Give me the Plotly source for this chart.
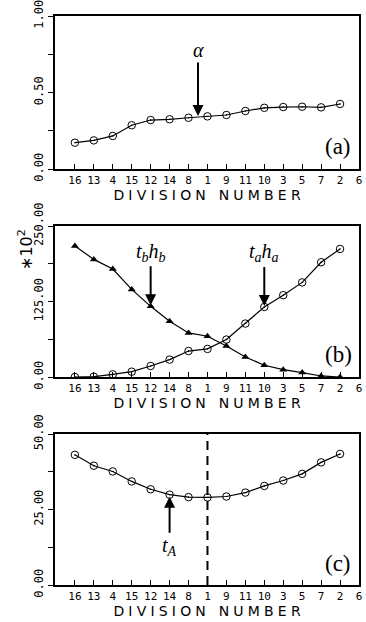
import plotly.graph_objects as go

# Division order along the horizontal axis (the last label sits on the frame edge)
divisions = ["16", "13", "4", "15", "12", "14", "8", "1", "9", "11", "10", "3", "5", "7", "2", "6"]

# (a) coefficient alpha per division
alpha = [0.172, 0.187, 0.216, 0.286, 0.320, 0.325, 0.335, 0.344, 0.353, 0.379,
         0.400, 0.405, 0.407, 0.403, 0.425]

# (b) products, in units of 10^2
ta_ha = [0.0, 0.5, 4.4, 8.8, 18.2, 28.8, 43.0, 46.5, 62.0, 88.5,
         116.0, 135.5, 156.6, 190.0, 212.0]
tb_hb = [217.0, 194.7, 178.7, 145.0, 117.0, 92.4, 73.0, 67.5, 51.4, 33.2,
         19.4, 12.2, 7.3, 1.7, 0.0]

# (c) thickness t_A per division
t_A = [43.1, 39.5, 37.6, 34.3, 31.7, 29.9, 29.1, 29.0, 29.3, 30.6,
       32.8, 34.6, 36.8, 40.6, 43.4]

# labelled and minor y ticks per panel
y_ticks_a = [0, 0.5, 1.0]
y_text_a = ["0.00", "0.50", "1.00"]
y_minor_a = [0.25, 0.75]
y_ticks_b = [0, 125, 250]
y_text_b = ["0.00", "125.00", "250.00"]
y_minor_b = [62.5, 187.5]
y_ticks_c = [0, 25, 50]
y_text_c = ["0.00", "25.00", "50.00"]
y_minor_c = [12.5, 37.5]

W, H = 366, 622
pos = list(range(len(alpha)))
div_pos = list(range(len(divisions)))

BLACK = "black"
TICK_FONT = dict(family="DejaVu Sans Mono", size=11, color=BLACK)
SERIF = "Liberation Serif"
# thin + hair spaces open up the letter spacing of the axis caption
TITLE_TEXT = "\u2009\u200a".join("DIVISION NUMBER")

fig = go.Figure()

line_style = dict(color=BLACK, width=1.2)
circle = dict(symbol="circle-open-dot", size=7.5, color=BLACK, line=dict(color=BLACK, width=1))
tri = dict(symbol="triangle-up", size=7, color=BLACK)

fig.add_trace(go.Scatter(x=pos, y=alpha, mode="lines+markers", line=line_style,
                         marker=circle, xaxis="x", yaxis="y"))
fig.add_trace(go.Scatter(x=pos, y=tb_hb, mode="lines+markers", line=line_style,
                         marker=tri, xaxis="x2", yaxis="y2"))
fig.add_trace(go.Scatter(x=pos, y=ta_ha, mode="lines+markers", line=line_style,
                         marker=circle, xaxis="x2", yaxis="y2"))
fig.add_trace(go.Scatter(x=pos, y=t_A, mode="lines+markers", line=line_style,
                         marker=circle, xaxis="x3", yaxis="y3"))

x_dom = [55 / W, 359 / W]


def ydom(top, bottom):
    return [1 - bottom / H, 1 - top / H]


def xaxis_cfg(anchor):
    return dict(
        domain=x_dom, anchor=anchor, range=[-1.05, 15.0], automargin=False,
        tickmode="array", tickvals=div_pos, ticktext=divisions,
        ticks="inside", ticklen=5, tickwidth=1, tickcolor=BLACK,
        showline=True, linecolor=BLACK, linewidth=1.5, mirror=True,
        showgrid=False, zeroline=False, tickfont=TICK_FONT,
        ticklabeloverflow="allow",
        title=dict(text=TITLE_TEXT, font=dict(family="DejaVu Sans", size=14, color=BLACK),
                   standoff=2),
    )


def yaxis_cfg(anchor, dom, rng, vals, texts, minor_vals):
    return dict(
        domain=dom, anchor=anchor, range=rng, automargin=False,
        tickmode="array", tickvals=vals, ticktext=texts, tickangle=-90,
        ticks="outside", ticklen=5, tickwidth=1, tickcolor=BLACK,
        minor=dict(tickmode="array", tickvals=minor_vals, ticks="outside",
                   ticklen=5, tickwidth=1, tickcolor=BLACK, showgrid=False),
        showline=True, linecolor=BLACK, linewidth=1.5, mirror=True,
        showgrid=False, zeroline=False, ticklabeloverflow="allow",
        tickfont=dict(family="DejaVu Sans Mono", size=12, color=BLACK),
    )


fig.update_layout(
    width=W, height=H, margin=dict(l=0, r=0, t=0, b=0, autoexpand=False),
    paper_bgcolor="white", plot_bgcolor="white", showlegend=False,
    xaxis=xaxis_cfg("y"),
    yaxis=yaxis_cfg("x", ydom(16, 169), [0, 1.0], y_ticks_a, y_text_a, y_minor_a),
    xaxis2=xaxis_cfg("y2"),
    yaxis2=yaxis_cfg("x2", ydom(226, 377), [0, 250], y_ticks_b, y_text_b, y_minor_b),
    xaxis3=xaxis_cfg("y3"),
    yaxis3=yaxis_cfg("x3", ydom(434, 585), [0, 50], y_ticks_c, y_text_c, y_minor_c),
)

arrow = dict(showarrow=True, arrowhead=2, arrowsize=1.1, arrowwidth=2,
             arrowcolor=BLACK, axref="pixel", ayref="pixel", ax=0)
label_font = dict(family=SERIF, size=20, color=BLACK)

# (a) alpha marker between divisions 8 and 1
i8 = divisions.index("8")
fig.add_annotation(x=i8 + 0.5, y=(alpha[i8] + alpha[i8 + 1]) / 2, xref="x", yref="y",
                   text="<i>α</i>", font=label_font, ay=-67, standoff=1, **arrow)

# (b) t_b h_b at division 12, t_a h_a at division 10
i12 = divisions.index("12")
i10 = divisions.index("10")
fig.add_annotation(x=i12, y=tb_hb[i12], xref="x2", yref="y2",
                   text="<i>t<sub>b</sub>h<sub>b</sub></i>", font=label_font,
                   ay=-54, standoff=1, **arrow)
fig.add_annotation(x=i10, y=ta_ha[i10], xref="x2", yref="y2",
                   text="<i>t<sub>a</sub>h<sub>a</sub></i>", font=label_font,
                   ay=-54, standoff=1, **arrow)

# (c) minimum thickness at division 14
i14 = divisions.index("14")
fig.add_annotation(x=i14, y=t_A[i14], xref="x3", yref="y3",
                   text="<i>t<sub>A</sub></i>", font=label_font,
                   ay=52, standoff=2, **arrow)

# (c) dashed line at division 1
i1 = divisions.index("1")
fig.add_shape(type="line", xref="x3", yref="y3 domain", x0=i1, x1=i1, y0=0, y1=1,
              line=dict(color=BLACK, width=2, dash="9px,6px"))

# scale factor on panel (b)
fig.add_annotation(xref="paper", yref="paper", x=25 / W, y=1 - 250 / H,
                   xanchor="center", yanchor="middle",
                   text="∗10<sup>2</sup>", textangle=-90, showarrow=False,
                   font=dict(family="DejaVu Sans", size=16, color=BLACK))

# panel letters
for letter, ycen in (("(a)", 146), ("(b)", 354), ("(c)", 563)):
    fig.add_annotation(xref="paper", yref="paper", x=338 / W, y=1 - ycen / H,
                       xanchor="center", yanchor="middle",
                       text=letter, showarrow=False,
                       font=dict(family=SERIF, size=23, color=BLACK))

fig.write_html("out.html")
